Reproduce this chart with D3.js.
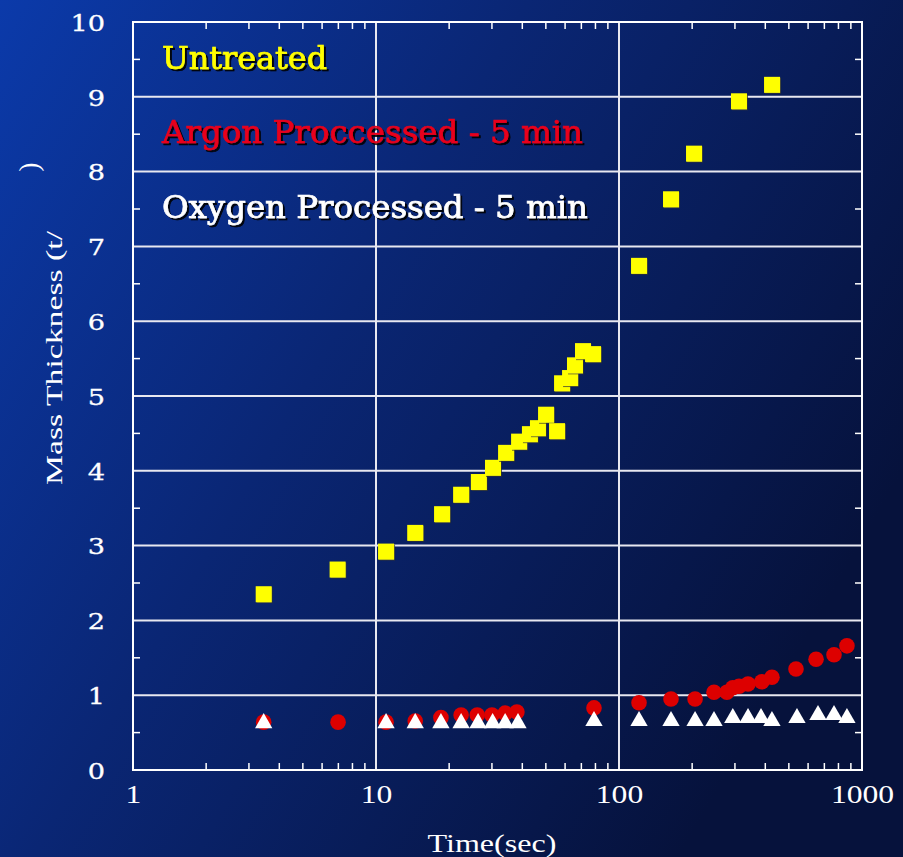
<!DOCTYPE html>
<html><head><meta charset="utf-8">
<script src="https://cdn.jsdelivr.net/npm/d3@7"></script>
<style>html,body{margin:0;padding:0;background:#0a2a7c;}svg{display:block;}</style>
</head><body>
<script>
// ---- data ----
const untreatedX = [3.45, 6.95, 11.0, 14.5, 18.7, 22.4, 26.5, 30.3, 34.3, 38.8, 43.0, 46.4, 50.1, 55.6, 58.3, 62.9, 65.9, 71.1, 78.2, 120.9, 163.7, 203.6, 311.7, 426.4];
const untreatedY = [2.35, 2.68, 2.92, 3.17, 3.42, 3.68, 3.85, 4.04, 4.24, 4.39, 4.49, 4.57, 4.75, 4.53, 5.17, 5.24, 5.41, 5.60, 5.56, 6.74, 7.63, 8.24, 8.94, 9.16];
const argonX = [3.45, 6.98, 11.0, 14.5, 18.5, 22.4, 26.1, 30.0, 34.0, 38.0, 78.9, 120.9, 163.7, 205.6, 246, 278, 294, 312, 339.6, 387, 426, 535, 647, 767, 867];
const argonY = [0.64, 0.64, 0.64, 0.655, 0.70, 0.735, 0.735, 0.735, 0.76, 0.775, 0.83, 0.90, 0.95, 0.95, 1.04, 1.04, 1.10, 1.12, 1.15, 1.18, 1.24, 1.35, 1.48, 1.54, 1.66];
const oxygenX = [3.45, 11.0, 14.5, 18.5, 22.4, 26.3, 30.2, 34.0, 38.4, 78.9, 120.9, 163.7, 205.6, 246, 294, 339.6, 384, 426, 540, 659, 767, 867];
const oxygenY = [0.64, 0.64, 0.64, 0.64, 0.64, 0.64, 0.64, 0.64, 0.64, 0.67, 0.67, 0.67, 0.67, 0.67, 0.71, 0.71, 0.71, 0.67, 0.71, 0.75, 0.75, 0.71];
const xTickValues = [1, 10, 100, 1000];
const xTickLabels = ["1", "10", "100", "1000"];
const yTickValues = [0,1,2,3,4,5,6,7,8,9,10];
const legendLabels = ["Untreated", "Argon Proccessed - 5 min", "Oxygen Processed - 5 min"];
const legendColors = ["#ffff00", "#e8001c", "#ffffff"];
const xTitle = "Time(sec)";
const yTitle = "Mass Thickness (t/";

// ---- layout ----
const W = 903, H = 857;
const svg = d3.select("body").append("svg").attr("width", W).attr("height", H);
const defs = svg.append("defs");
const g = defs.append("linearGradient").attr("id","bg").attr("x1","0").attr("y1","0").attr("x2","1").attr("y2","0.55");
g.append("stop").attr("offset","0").attr("stop-color","#0b3aaa");
g.append("stop").attr("offset","0.45").attr("stop-color","#0a2674");
g.append("stop").attr("offset","1").attr("stop-color","#06123c");
const sh = defs.append("filter").attr("id","shadow").attr("x","-10%").attr("y","-10%").attr("width","130%").attr("height","140%");
sh.append("feDropShadow").attr("dx",2).attr("dy",2).attr("stdDeviation",0.4).attr("flood-color","#000").attr("flood-opacity",0.9);
const shS = defs.append("filter").attr("id","mshadow").attr("x","-20%").attr("y","-20%").attr("width","150%").attr("height","150%");
shS.append("feDropShadow").attr("dx",1).attr("dy",1).attr("stdDeviation",0.3).attr("flood-color","#333").attr("flood-opacity",0.8);

svg.append("rect").attr("width",W).attr("height",H).attr("fill","url(#bg)");

const L = 133, R = 862, T = 22, B = 770;
const x = d3.scaleLog().domain([1,1000]).range([L,R]);
const y = d3.scaleLinear().domain([0,10]).range([B,T]);

const axisStroke = "#ffffff";
// gridlines
svg.append("g").selectAll("line").data(yTickValues.filter(v=>v>0 && v<10)).join("line")
  .attr("x1",L).attr("x2",R).attr("y1",d=>y(d)).attr("y2",d=>y(d))
  .attr("stroke","#e8e8f0").attr("stroke-width",2);
svg.append("g").selectAll("line").data([10,100]).join("line")
  .attr("x1",d=>x(d)).attr("x2",d=>x(d)).attr("y1",T).attr("y2",B)
  .attr("stroke","#e8e8f0").attr("stroke-width",2);

// frame
svg.append("rect").attr("x",L).attr("y",T).attr("width",R-L).attr("height",B-T)
  .attr("fill","none").attr("stroke",axisStroke).attr("stroke-width",2);

// minor ticks (inward)
const minorX = [];
[1,10,100].forEach(d=>{for(let k=2;k<=9;k++) minorX.push(d*k);});
const minorY = d3.range(0.5,10,1);
const tk = svg.append("g").attr("stroke",axisStroke).attr("stroke-width",1.5);
tk.selectAll(".bx").data(minorX).join("line").attr("x1",d=>x(d)).attr("x2",d=>x(d)).attr("y1",B).attr("y2",B-7);
tk.selectAll(".tx").data(minorX).join("line").attr("x1",d=>x(d)).attr("x2",d=>x(d)).attr("y1",T).attr("y2",T+7);
tk.selectAll(".ly").data(minorY).join("line").attr("x1",L).attr("x2",L+7).attr("y1",d=>y(d)).attr("y2",d=>y(d));
tk.selectAll(".ry").data(minorY).join("line").attr("x1",R).attr("x2",R-7).attr("y1",d=>y(d)).attr("y2",d=>y(d));

// axes labels via d3 axis
const xAxis = d3.axisBottom(x).tickValues(xTickValues).tickFormat((d,i)=>xTickLabels[i]).tickSize(0).tickPadding(15);
const xa = svg.append("g").attr("transform",`translate(0,${B})`).call(xAxis);
xa.select(".domain").remove();
xa.selectAll("text").attr("fill","#fff").attr("font-family","Liberation Serif, serif").attr("font-size",26)
  .attr("textLength",function(){return this.textContent.length*15.8;}).attr("lengthAdjust","spacingAndGlyphs");

const yAxis = d3.axisLeft(y).tickValues(yTickValues).tickFormat(d3.format("d")).tickSize(0).tickPadding(28);
const ya = svg.append("g").attr("transform",`translate(${L},0)`).call(yAxis);
ya.select(".domain").remove();
ya.selectAll("text").attr("fill","#fff").attr("font-family","DejaVu Serif, serif").attr("font-size",23).attr("dy","0.36em")
  .attr("stroke","#fff").attr("stroke-width",0.3)
  .attr("textLength",function(){return this.textContent.length*17.3;}).attr("lengthAdjust","spacingAndGlyphs");

// titles
svg.append("text").attr("x",492).attr("y",852).attr("text-anchor","middle")
  .attr("fill","#fff").attr("font-family","Liberation Serif, serif").attr("font-size",26)
  .attr("textLength",129).attr("lengthAdjust","spacingAndGlyphs").text(xTitle);
svg.append("text").attr("transform",`translate(62,358) rotate(-90)`).attr("text-anchor","middle")
  .attr("fill","#fff").attr("font-family","Liberation Serif, serif").attr("font-size",23)
  .attr("textLength",254).attr("lengthAdjust","spacingAndGlyphs").text(yTitle);
svg.append("text").attr("transform",`translate(38,167) rotate(-90)`).attr("text-anchor","middle")
  .attr("fill","#fff").attr("font-family","Liberation Serif, serif").attr("font-size",27).text(")");

// markers
const tri = d3.symbol().type(d3.symbolTriangle).size(130);
const oxData = oxygenX.map((v,i)=>[v,oxygenY[i]]);
svg.append("g").selectAll("circle").data(argonX.map((v,i)=>[v,argonY[i]])).join("circle")
  .attr("cx",d=>x(d[0])).attr("cy",d=>y(d[1])).attr("r",7.8).attr("fill","#dd0000");
svg.append("g").selectAll("path").data(oxData).join("path")
  .attr("d",tri).attr("transform",d=>`translate(${x(d[0])},${y(d[1])+1})`).attr("fill","#ffffff");
svg.append("g").selectAll("rect").data(untreatedX.map((v,i)=>[v,untreatedY[i]])).join("rect")
  .attr("x",d=>x(d[0])-8).attr("y",d=>y(d[1])-8).attr("width",16).attr("height",16)
  .attr("fill","#ffff00").attr("filter","url(#mshadow)");

// legend
const legY = [69, 143, 218];
const legW = [165, 421, 426];
svg.append("g").selectAll("text").data(legendLabels).join("text")
  .attr("x",162).attr("y",(d,i)=>legY[i]).attr("fill",(d,i)=>legendColors[i])
  .attr("stroke",(d,i)=>legendColors[i]).attr("stroke-width",0.7)
  .attr("font-family","DejaVu Serif, serif").attr("font-size",31)
  .attr("textLength",(d,i)=>legW[i]).attr("lengthAdjust","spacingAndGlyphs")
  .attr("filter","url(#shadow)").text(d=>d);
</script>
</body></html>
